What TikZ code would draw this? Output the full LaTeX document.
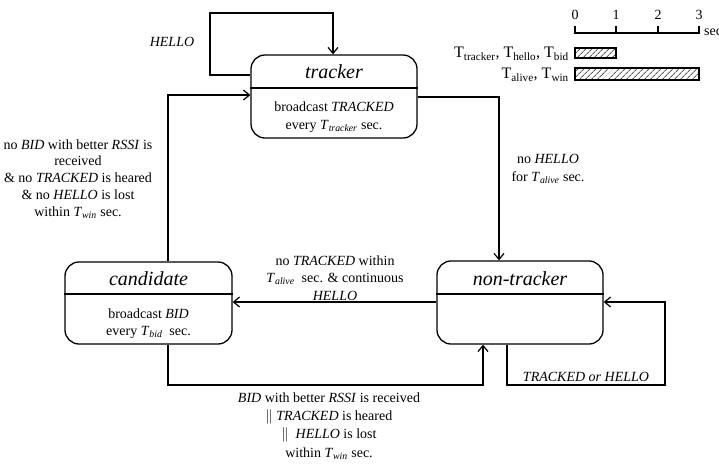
\documentclass[tikz,border=0pt]{standalone}
\usepackage{fontspec}
\setmainfont{Liberation Serif}
\usetikzlibrary{arrows.meta,patterns.meta}
\newcommand{\Tsub}[1]{\textit{T}\textsubscript{\textit{#1}}}
\begin{document}
\begin{tikzpicture}[x=1pt,y=-1pt,
  stbox/.style={draw, rounded corners=14pt, line width=1.3pt, inner sep=0pt},
  arr/.style={-{Straight Barb[length=6pt,width=10pt,line width=1.2pt]}, line width=1.3pt},
  lbl/.style={align=center, font=\fontsize{14}{17.5}\selectfont, inner sep=0pt},
  ttl/.style={font=\fontsize{20}{24}\selectfont\itshape, inner sep=0pt},
  leg/.style={inner sep=0pt, anchor=east, font=\fontsize{16}{18}\selectfont},
  bar/.style={draw, line width=1.1pt, pattern={Lines[angle=45,distance=4pt,line width=0.9pt]}, pattern color=black!65}]
\useasboundingbox[fill=white] (0,0) rectangle (719,472);

% states
\node[stbox, minimum width=166pt, minimum height=83pt] (tr) at (334,96.5) {};
\node[stbox, minimum width=167pt, minimum height=82pt] (cd) at (148.5,303) {};
\node[stbox, minimum width=166pt, minimum height=83pt] (nt) at (520,302.5) {};

\coordinate (dt) at (0,88);
\coordinate (dc) at (0,294);
\draw[line width=1.3pt] (tr.west |- dt) -- (tr.east |- dt);
\draw[line width=1.3pt] (cd.west |- dc) -- (cd.east |- dc);
\draw[line width=1.3pt] (nt.west |- dc) -- (nt.east |- dc);

\node[ttl] (trt) at (334,72) {tracker};
\node[lbl] (trb) at (334,117) {broadcast \textit{TRACKED}\\every \Tsub{tracker} sec.};
\node[ttl] (cdt) at (148.5,279) {candidate};
\node[lbl] (cdb) at (148.5,323.5) {broadcast \textit{BID}\\every \Tsub{bid}\ \ sec.};
\node[ttl] (ntt) at (520,279) {non-tracker};

% connectors
\coordinate (h1) at (210,75);
\coordinate (h2) at (333,13);
\draw[arr] (tr.west |- h1) -- (h1) |- (h2) -- (tr.north -| h2);

\coordinate (c1) at (168,95);
\draw[arr] (cd.north -| c1) |- (tr.west |- c1);

\coordinate (c2) at (499,97);
\draw[arr] (tr.east |- c2) -| (nt.north -| c2);

\coordinate (c3) at (0,302);
\draw[arr] (nt.west |- c3) -- (cd.east |- c3);

\coordinate (c4) at (168,385);
\coordinate (c5) at (483,385);
\draw[arr] (cd.south -| c4) -- (c4) -- (c5) -- (nt.south -| c5);

\coordinate (c6) at (507,385);
\coordinate (c7) at (665,302);
\draw[arr] (nt.south -| c6) -- (c6) -| (c7) -- (nt.east |- c7);

% labels
\node[lbl, font=\fontsize{14}{17}\selectfont\itshape] (lh) at (172,42) {HELLO};
\node[lbl, font=\fontsize{14}{16.8}\selectfont] (ll) at (78,179) {no \textit{BID} with better \textit{RSSI} is\\received\\\& no \textit{TRACKED} is heared\\\& no \textit{HELLO} is lost\\within \Tsub{win} sec.};
\node[lbl] (lr) at (548,169) {no \textit{HELLO}\\for \Tsub{alive} sec.};
\node[lbl] (lm) at (335,278) {no \textit{TRACKED} within\\\Tsub{alive}\ \ sec. \& continuous\\\textit{HELLO}};
\node[lbl, font=\fontsize{14}{18.3}\selectfont] (lb) at (329,426) {\textit{BID} with better \textit{RSSI} is received\\$\|$ \textit{TRACKED} is heared\\$\|$\ \ \textit{HELLO} is lost\\within \Tsub{win} sec.};
\node[lbl, font=\fontsize{14}{17}\selectfont\itshape] (lt) at (586,377) {TRACKED or HELLO};

% legend
\draw[line width=1.2pt] (575,26) -- (575,33) -- (699,33) -- (699,26);
\draw[line width=1.2pt] (616,26) -- (616,33);
\draw[line width=1.2pt] (658,26) -- (658,33);
\node[lbl] (a0) at (575,15) {0};
\node[lbl] (a1) at (616,15) {1};
\node[lbl] (a2) at (658,15) {2};
\node[lbl] (a3) at (699,15) {3};
\node[lbl, anchor=west] (as) at (704,32) {sec};
\draw[bar] (575,48) rectangle (616,58);
\draw[bar] (575,68) rectangle (699,80);
\node[leg] (lg1) at (569,54) {T\textsubscript{tracker}, T\textsubscript{hello}, T\textsubscript{bid}};
\node[leg] (lg2) at (569,75) {T\textsubscript{alive}, T\textsubscript{win}};
\end{tikzpicture}
\end{document}
